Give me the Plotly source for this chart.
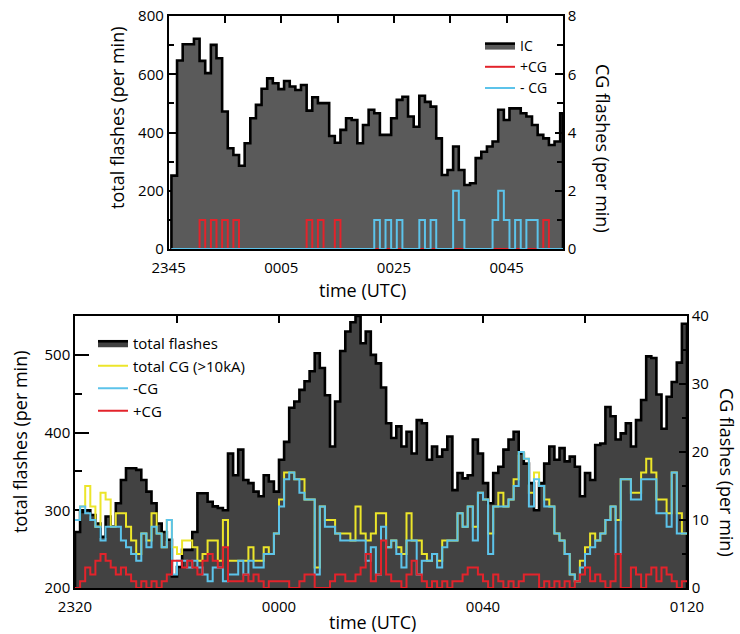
import numpy as np
import plotly.graph_objects as go

W, H = 740, 634
FONT = "Open Sans"

# ---------------- top panel data (1-min bins, minutes after 2345 UTC) -------------
top_minutes = list(range(1, 71))
top_ic = [252, 647, 703, 703, 722, 646, 604, 701, 655, 472,
          346, 323, 286, 363, 449, 495, 550, 586, 569, 549,
          577, 558, 546, 563, 475, 521, 501, 501, 388, 365,
          409, 449, 443, 363, 426, 478, 466, 392, 392, 449,
          512, 523, 455, 420, 526, 505, 489, 380, 254, 271,
          352, 271, 220, 226, 312, 334, 352, 369, 478, 443,
          483, 483, 466, 455, 426, 392, 380, 357, 369, 466]
top_pos_cg = [0, 0, 0, 0, 0, 1, 0, 1, 0, 1,
              0, 1, 0, 0, 0, 0, 0, 0, 0, 0,
              0, 0, 0, 0, 1, 0, 1, 0, 0, 1,
              0, 0, 0, 0, 0, 0, 0, 0, 0, 0,
              0, 0, 0, 0, 0, 0, 0, 0, 0, 0,
              0, 0, 0, 0, 0, 0, 0, 0, 0, 0,
              0, 0, 0, 0, 0, 0, 1, 0, 0, 0]
top_neg_cg = [0, 0, 0, 0, 0, 0, 0, 0, 0, 0,
              0, 0, 0, 0, 0, 0, 0, 0, 0, 0,
              0, 0, 0, 0, 0, 0, 0, 0, 0, 0,
              0, 0, 0, 0, 0, 0, 1, 0, 1, 0,
              1, 0, 0, 0, 1, 0, 1, 0, 0, 0,
              2, 1, 0, 0, 0, 0, 0, 1, 2, 1,
              0, 1, 0, 1, 1, 0, 0, 0, 0, 0]
top_tick_labels = ["2345", "0005", "0025", "0045"]
top_tick_minutes = [0, 20, 40, 60]
TOP_XMAX = 70

# ---------------- bottom panel data (1-min bins, minutes after 2320 UTC) ----------
bot_minutes = list(range(0, 120))
bot_total = [272, 298, 300, 294, 283, 266, 292, 279, 309, 339,
             354, 354, 352, 339, 324, 309, 283, 272, 262, 215,
             227, 249, 249, 272, 322, 322, 311, 305, 303, 300,
             373, 345, 378, 339, 335, 324, 318, 345, 337, 324,
             365, 388, 432, 440, 455, 466, 479, 502, 483, 448,
             382, 440, 505, 530, 542, 550, 515, 530, 500, 489,
             458, 412, 393, 408, 382, 401, 373, 416, 412, 365,
             382, 369, 378, 395, 326, 348, 341, 345, 391, 373,
             335, 309, 348, 356, 378, 391, 401, 373, 360, 335,
             300, 335, 360, 382, 365, 380, 363, 369, 356, 318,
             348, 339, 384, 386, 433, 421, 391, 399, 412, 382,
             416, 442, 498, 496, 449, 405, 446, 465, 490, 540]
bot_total_cg = [10, 12, 15, 12, 9, 14, 13, 9, 11, 11,
                9, 7, 5, 8, 7, 11, 8, 6, 10, 6,
                5, 7, 7, 6, 4, 5, 7, 7, 4, 10,
                4, 4, 4, 4, 6, 4, 4, 6, 5, 8,
                13, 17, 17, 16, 16, 13, 13, 3, 12, 10,
                10, 8, 8, 8, 7, 12, 8, 7, 8, 11,
                11, 6, 7, 6, 5, 11, 7, 7, 5, 4,
                5, 4, 7, 7, 7, 11, 9, 12, 9, 14,
                13, 8, 12, 14, 12, 13, 16, 20, 19, 14,
                17, 15, 13, 12, 8, 7, 5, 2, 1, 4,
                6, 8, 7, 8, 10, 12, 10, 16, 16, 14,
                14, 17, 19, 17, 13, 13, 11, 17, 11, 8]
bot_neg_cg = [10, 12, 11, 10, 9, 7, 9, 9, 9, 7,
              6, 5, 4, 8, 6, 9, 8, 6, 10, 2,
              4, 4, 3, 4, 3, 2, 1, 3, 3, 1,
              2, 2, 4, 2, 4, 3, 3, 5, 5, 8,
              12, 16, 17, 16, 14, 13, 13, 2, 12, 9,
              9, 8, 7, 7, 7, 7, 7, 4, 6, 2,
              9, 6, 7, 5, 3, 7, 7, 2, 4, 4,
              5, 3, 6, 7, 7, 11, 9, 12, 7, 14,
              13, 5, 12, 12, 12, 13, 15, 20, 19, 12,
              16, 15, 12, 12, 8, 7, 5, 2, 1, 3,
              5, 6, 7, 8, 10, 12, 5, 16, 16, 13,
              13, 16, 16, 16, 11, 11, 9, 17, 8, 8]
bot_pos_cg = [0, 1, 3, 2, 4, 5, 4, 3, 2, 3,
              2, 1, 0, 1, 0, 1, 0, 1, 2, 4,
              4, 3, 4, 3, 2, 4, 5, 4, 3, 6,
              1, 1, 1, 2, 1, 2, 1, 0, 1, 1,
              1, 1, 0, 0, 1, 2, 2, 0, 0, 0,
              1, 2, 2, 1, 1, 2, 3, 5, 1, 2,
              7, 2, 1, 1, 0, 2, 4, 2, 1, 0,
              1, 0, 1, 0, 1, 1, 2, 3, 3, 2,
              1, 0, 2, 1, 0, 1, 0, 1, 2, 2,
              2, 0, 1, 0, 1, 0, 1, 0, 1, 2,
              3, 1, 2, 1, 0, 1, 5, 0, 0, 3,
              2, 0, 2, 3, 1, 3, 2, 1, 0, 1]
bot_tick_labels = ["2320", "0000", "0040", "0120"]
bot_tick_minutes = [0, 40, 80, 120]
BOT_XMAX = 120

# ---------------- colours ----------------
C_TOP_FILL = "#5a5a5a"
C_BOT_FILL = "#424242"
C_RED = "#e3232b"
C_BLUE = "#5cc3ea"
C_YELLOW = "#ece52a"


def step_xy(left_edges, values, x_end, close=False):
    x = list(left_edges) + [x_end]
    y = list(values) + [values[-1]]
    if close:
        x = [x[0]] + x + [x_end]
        y = [0] + y + [0]
    return x, y


top_edges = np.array(top_minutes) - 0.5
bot_edges = np.array(bot_minutes, dtype=float)

fig = go.Figure()

# top panel
x, y = step_xy(top_edges, top_ic, TOP_XMAX, close=True)
fig.add_trace(go.Scatter(x=x, y=y, mode="lines", line=dict(shape="hv", color="black", width=2.6),
                         fill="tozeroy", fillcolor=C_TOP_FILL, name="IC",
                         xaxis="x", yaxis="y", legend="legend"))
x, y = step_xy(top_edges, top_pos_cg, TOP_XMAX)
fig.add_trace(go.Scatter(x=x, y=y, mode="lines", line=dict(shape="hv", color=C_RED, width=2),
                         name="+CG", xaxis="x", yaxis="y2", legend="legend"))
x, y = step_xy(top_edges, top_neg_cg, TOP_XMAX)
fig.add_trace(go.Scatter(x=x, y=y, mode="lines", line=dict(shape="hv", color=C_BLUE, width=2),
                         name="- CG", xaxis="x", yaxis="y2", legend="legend"))

# bottom panel
x, y = step_xy(bot_edges, bot_total, BOT_XMAX, close=True)
fig.add_trace(go.Scatter(x=x, y=y, mode="lines", line=dict(shape="hv", color="black", width=2.6),
                         fill="tozeroy", fillcolor=C_BOT_FILL, name="total flashes",
                         xaxis="x2", yaxis="y3", legend="legend2"))
x, y = step_xy(bot_edges, bot_total_cg, BOT_XMAX)
fig.add_trace(go.Scatter(x=x, y=y, mode="lines", line=dict(shape="hv", color=C_YELLOW, width=2),
                         name="total CG (>10kA)", xaxis="x2", yaxis="y4", legend="legend2"))
x, y = step_xy(bot_edges, bot_neg_cg, BOT_XMAX)
fig.add_trace(go.Scatter(x=x, y=y, mode="lines", line=dict(shape="hv", color=C_BLUE, width=2),
                         name="-CG", xaxis="x2", yaxis="y4", legend="legend2"))
x, y = step_xy(bot_edges, bot_pos_cg, BOT_XMAX)
fig.add_trace(go.Scatter(x=x, y=y, mode="lines", line=dict(shape="hv", color=C_RED, width=2),
                         name="+CG", xaxis="x2", yaxis="y4", legend="legend2"))

tickfont = dict(family=FONT, size=15, color="black")
axis_common = dict(showline=True, linecolor="black", linewidth=1.5, ticks="inside",
                   tickcolor="black", tickwidth=1.5, showgrid=False, zeroline=False,
                   tickfont=tickfont, automargin=False)


def px_x(p):
    return p / W


def px_y(p):
    return 1 - p / H


minor_tick = dict(ticks="inside", tickcolor="black", tickwidth=1.5)

fig.update_layout(
    width=W, height=H, autosize=False,
    margin=dict(l=0, r=0, t=0, b=0, pad=0, autoexpand=False),
    paper_bgcolor="white", plot_bgcolor="white",
    font=dict(family=FONT, color="black"),
    xaxis=dict(domain=[px_x(168.6), px_x(563)], anchor="y", range=[0, TOP_XMAX],
               tickvals=top_tick_minutes, ticktext=top_tick_labels, ticklen=7,
               mirror="ticks", layer="below traces", ticklabelstandoff=4,
               minor=dict(dtick=10, ticklen=7, **minor_tick),
               **axis_common),
    yaxis=dict(domain=[px_y(249), px_y(16)], anchor="x", range=[0, 800], dtick=200, ticklen=8,
               layer="below traces",
               minor=dict(dtick=100, ticklen=6, **minor_tick),
               **axis_common),
    yaxis2=dict(overlaying="y", side="right", anchor="x", range=[0, 8], dtick=2, ticklen=8,
                minor=dict(dtick=1, ticklen=6, **minor_tick),
                **axis_common),
    xaxis2=dict(domain=[px_x(75), px_x(687)], anchor="y3", range=[0, BOT_XMAX],
                tickvals=bot_tick_minutes, ticktext=bot_tick_labels, ticklen=7,
                mirror="ticks", layer="below traces", ticklabelstandoff=4,
                minor=dict(dtick=20, ticklen=7, **minor_tick),
                **axis_common),
    yaxis3=dict(domain=[px_y(588), px_y(316)], anchor="x2", range=[200, 550], dtick=100, tick0=200,
                ticklen=14, layer="below traces",
                minor=dict(dtick=50, tick0=200, ticklen=7, **minor_tick),
                **axis_common),
    yaxis4=dict(overlaying="y3", side="right", anchor="x2", range=[0, 40], dtick=10, ticklen=8,
                minor=dict(dtick=5, ticklen=5, **minor_tick),
                **axis_common),
    legend=dict(x=px_x(480), y=px_y(30), xanchor="left", yanchor="top",
                bgcolor="rgba(0,0,0,0)", borderwidth=0, tracegroupgap=0,
                font=dict(family=FONT, size=14, color="black"), itemwidth=30),
    legend2=dict(x=px_x(93), y=px_y(327), xanchor="left", yanchor="top",
                 bgcolor="rgba(0,0,0,0)", borderwidth=0, tracegroupgap=0,
                 font=dict(family=FONT, size=15, color="black"), itemwidth=30),
)

title_font = dict(family=FONT, size=18, color="black")
titles = [
    ("total flashes (per min)", 117, 118, -90),
    ("CG flashes (per min)", 603, 148, 90),
    ("time (UTC)", 362, 290, 0),
    ("total flashes (per min)", 20, 442, -90),
    ("CG flashes (per min)", 727, 472, 90),
    ("time (UTC)", 372, 622, 0),
]
for text, px, py, ang in titles:
    fig.add_annotation(text=text, x=px_x(px), y=px_y(py), xref="paper", yref="paper",
                       showarrow=False, textangle=ang, font=title_font,
                       xanchor="center", yanchor="middle")

fig.write_html("out.html", config={"displayModeBar": False},
               post_script="document.body.style.margin='0px';document.body.style.padding='0px';")
